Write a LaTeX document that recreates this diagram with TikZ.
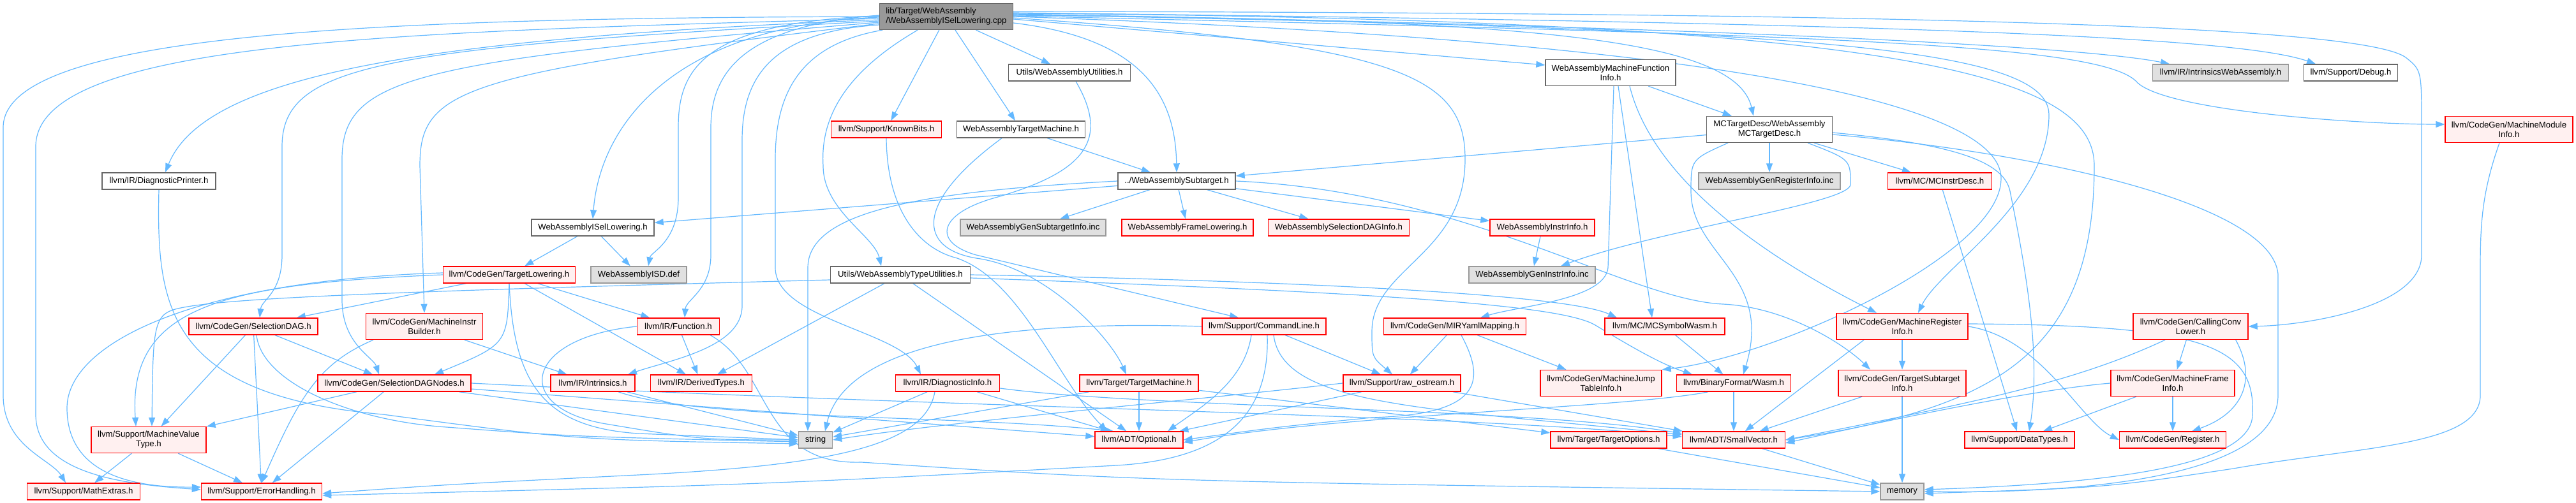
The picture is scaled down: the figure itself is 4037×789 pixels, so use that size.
\documentclass[tikz,border=0pt]{standalone}
\usepackage{fontspec}
\setmainfont{Liberation Sans}
\usetikzlibrary{arrows.meta}
\definecolor{edgeblue}{HTML}{63B8FF}
\definecolor{redfill}{HTML}{FFF0F0}
\definecolor{grayfill}{HTML}{E0E0E0}
\definecolor{rootfill}{HTML}{999999}
\definecolor{darkline}{HTML}{666666}
\definecolor{lightline}{HTML}{999999}
\definecolor{redline}{HTML}{FF0000}
\pgfdeclarelayer{edges}
\pgfsetlayers{edges,main}

\begin{document}
\begin{tikzpicture}[x=1pt, y=-1pt,
  >={Triangle[length=14pt,width=10pt]},
  box/.style={draw, line width=1.4pt, inner sep=0pt, minimum height=26pt, font=\fontsize{13.2pt}{15pt}\selectfont},
  wbox/.style={box, draw=darkline, fill=white},
  rbox/.style={box, draw=redline, fill=redfill},
  gbox/.style={box, draw=lightline, fill=grayfill},
  rootbox/.style={box, draw=darkline, fill=rootfill, minimum height=41pt, align=left},
  tall/.style={minimum height=41pt, align=center},
  edge/.style={->, draw=edgeblue, line width=1.2pt}]
\useasboundingbox (0,0) rectangle (4037,789);

\node[rootbox, minimum width=209pt] (root) at (1483,26) {lib/Target/WebAssembly\\/WebAssemblyISelLowering.cpp};

\node[wbox, minimum width=191pt] (util) at (1676,114) {Utils/WebAssemblyUtilities.h};
\node[wbox, tall, minimum width=204pt] (mfi) at (2524,114) {WebAssemblyMachineFunction\\Info.h};
\node[gbox, minimum width=213pt] (intrwasm) at (3480,114) {llvm/IR/IntrinsicsWebAssembly.h};
\node[wbox, minimum width=147pt] (debug) at (3684,114) {llvm/Support/Debug.h};

\node[rbox, minimum width=173pt] (knownbits) at (1389,203) {llvm/Support/KnownBits.h};
\node[wbox, minimum width=201pt] (watm) at (1600,203) {WebAssemblyTargetMachine.h};
\node[wbox, tall, minimum width=197pt] (mctd) at (2773,203) {MCTargetDesc/WebAssembly\\MCTargetDesc.h};
\node[rbox, tall, minimum width=200pt] (mmi) at (3932,203) {llvm/CodeGen/MachineModule\\Info.h};

\node[wbox, minimum width=178pt] (dprn) at (249,284) {llvm/IR/DiagnosticPrinter.h};
\node[wbox, minimum width=184pt] (subtgt) at (1844,284) {../WebAssemblySubtarget.h};
\node[gbox, minimum width=222pt] (genreg) at (2773,284) {WebAssemblyGenRegisterInfo.inc};
\node[rbox, minimum width=163pt] (mcinstr) at (3040,284) {llvm/MC/MCInstrDesc.h};

\node[wbox, minimum width=192pt] (isellow) at (929,357) {WebAssemblyISelLowering.h};
\node[gbox, minimum width=228pt] (gensub) at (1619,357) {WebAssemblyGenSubtargetInfo.inc};
\node[rbox, minimum width=206pt] (framelow) at (1861,357) {WebAssemblyFrameLowering.h};
\node[rbox, minimum width=221pt] (seldaginfo) at (2098,357) {WebAssemblySelectionDAGInfo.h};
\node[rbox, minimum width=164pt] (instrinfo) at (2417,357) {WebAssemblyInstrInfo.h};

\node[rbox, minimum width=207pt] (tlower) at (798,431) {llvm/CodeGen/TargetLowering.h};
\node[gbox, minimum width=150pt] (isddef) at (1001,431) {WebAssemblyISD.def};
\node[wbox, minimum width=219pt] (typeutil) at (1411,431) {Utils/WebAssemblyTypeUtilities.h};
\node[gbox, minimum width=198pt] (geninstr) at (2401,431) {WebAssemblyGenInstrInfo.inc};

\node[rbox, minimum width=202pt] (seldag) at (397,512) {llvm/CodeGen/SelectionDAG.h};
\node[rbox, tall, minimum width=183pt] (mib) at (665,512) {llvm/CodeGen/MachineInstr\\Builder.h};
\node[rbox, minimum width=129pt] (function) at (1063,512) {llvm/IR/Function.h};
\node[rbox, minimum width=194pt] (cmdline) at (1981,512) {llvm/Support/CommandLine.h};
\node[rbox, minimum width=223pt] (miryaml) at (2280,512) {llvm/CodeGen/MIRYamlMapping.h};
\node[rbox, minimum width=188pt] (mcsymwasm) at (2609,512) {llvm/MC/MCSymbolWasm.h};
\node[rbox, tall, minimum width=206pt] (mri) at (2981,512) {llvm/CodeGen/MachineRegister\\Info.h};
\node[rbox, tall, minimum width=180pt] (ccl) at (3433,512) {llvm/CodeGen/CallingConv\\Lower.h};

\node[rbox, minimum width=240pt] (sdnodes) at (618,601) {llvm/CodeGen/SelectionDAGNodes.h};
\node[rbox, minimum width=132pt] (intrinsics) at (929,601) {llvm/IR/Intrinsics.h};
\node[rbox, minimum width=159pt] (derived) at (1099,601) {llvm/IR/DerivedTypes.h};
\node[rbox, minimum width=163pt] (diaginfo) at (1485,601) {llvm/IR/DiagnosticInfo.h};
\node[rbox, minimum width=186pt] (llvmtm) at (1785,601) {llvm/Target/TargetMachine.h};
\node[rbox, minimum width=184pt] (rawos) at (2197,601) {llvm/Support/raw\_ostream.h};
\node[rbox, tall, minimum width=190pt] (mjti) at (2509,601) {llvm/CodeGen/MachineJump\\TableInfo.h};
\node[rbox, minimum width=179pt] (bfwasm) at (2717,601) {llvm/BinaryFormat/Wasm.h};
\node[rbox, tall, minimum width=200pt] (tsi) at (2981,601) {llvm/CodeGen/TargetSubtarget\\Info.h};
\node[rbox, tall, minimum width=194pt] (mfinfo) at (3405,601) {llvm/CodeGen/MachineFrame\\Info.h};

\node[rbox, tall, minimum width=180pt] (mvt) at (233,690) {llvm/Support/MachineValue\\Type.h};
\node[gbox, minimum width=53pt] (string) at (1278,690) {string};
\node[rbox, minimum width=138pt] (optional) at (1785,690) {llvm/ADT/Optional.h};
\node[rbox, minimum width=182pt] (topts) at (2521,690) {llvm/Target/TargetOptions.h};
\node[rbox, minimum width=161pt] (smallvec) at (2717,690) {llvm/ADT/SmallVector.h};
\node[rbox, minimum width=172pt] (datatypes) at (3165,690) {llvm/Support/DataTypes.h};
\node[rbox, minimum width=167pt] (register) at (3405,690) {llvm/CodeGen/Register.h};

\node[rbox, minimum width=177pt] (mathext) at (131,771) {llvm/Support/MathExtras.h};
\node[rbox, minimum width=189pt] (errh) at (410,771) {llvm/Support/ErrorHandling.h};
\node[gbox, minimum width=68pt] (memory) at (2981,771) {memory};

\begin{pgfonlayer}{edges}
\draw[edge] (root.west) .. controls (600,28) and (5,50) .. (5,200) -- (5,620) .. controls (5,700) and (80,720) .. ([xshift=-28pt]mathext.north);
\draw[edge] ([yshift=-3pt]root.west) .. controls (650,50) and (56,60) .. (56,230) -- (56,650) .. controls (56,745) and (200,760) .. ([yshift=3pt]errh.west);
\draw[edge] ([yshift=-5pt]root.west) .. controls (650,60) and (320,120) .. ([xshift=10pt]dprn.north);
\draw[edge] ([yshift=-7pt]root.west) .. controls (600,75) and (442,100) .. (442,230) -- (442,400) .. controls (442,460) and (410,470) .. ([xshift=10pt]seldag.north);
\draw[edge] ([yshift=-9pt]root.west) .. controls (650,95) and (536,120) .. (536,250) -- (536,470) .. controls (536,540) and (585,560) .. ([xshift=-24pt]sdnodes.north);
\draw[edge] ([yshift=-11pt]root.west) .. controls (720,115) and (658,140) .. (658,260) -- (mib.north);
\draw[edge] ([yshift=-1pt]root.west) .. controls (1050,40) and (940,200) .. (isellow.north);
\draw[edge] ([yshift=1pt]root.west) .. controls (1100,35) and (1063,110) .. (1063,200) -- (1063,310) .. controls (1063,380) and (1020,395) .. ([xshift=15pt]isddef.north);
\draw[edge] ([yshift=2pt]root.west) .. controls (1170,40) and (1114,110) .. (1114,200) -- (1114,400) .. controls (1114,455) and (1075,470) .. ([xshift=10pt]function.north);
\draw[edge] ([yshift=-13pt]root.west) .. controls (1210,50) and (1163,120) .. (1163,220) -- (1163,480) .. controls (1163,545) and (1050,565) .. ([xshift=55pt]intrinsics.north);
\draw[edge] ([xshift=-100pt]root.south) .. controls (1250,70) and (1215,150) .. (1215,250) -- (1215,420) .. controls (1215,500) and (1410,520) .. ([xshift=-42pt]diaginfo.north);
\draw[edge] ([xshift=-45pt]root.south) .. controls (1330,110) and (1285,180) .. (1290,260) .. controls (1290,330) and (1370,370) .. ([xshift=-30pt]typeutil.north);
\draw[edge] ([yshift=-10pt]root.east) .. controls (1790,60) and (1842,150) .. (subtgt.north);
\draw[edge] ([yshift=-4pt]root.east) -- ([yshift=12pt]mfi.west);
\draw[edge] ([yshift=2pt]root.east) .. controls (2400,30) and (2720,60) .. ([xshift=-25pt]mctd.north);
\draw[edge] ([yshift=4pt]root.east) .. controls (2600,40) and (3250,70) .. ([xshift=-80pt]intrwasm.north);
\draw[edge] ([yshift=6pt]root.east) .. controls (2900,35) and (3500,55) .. ([xshift=-55pt]debug.north);
\draw[edge] ([yshift=1pt]root.east) .. controls (2900,55) and (3300,70) .. (3350,130) .. controls (3400,175) and (3700,195) .. ([yshift=8pt]mmi.west);
\draw[edge] ([yshift=8pt]root.east) .. controls (3000,20) and (3700,40) .. (3770,90) .. controls (3795,110) .. (3795,200) -- (3795,400) .. controls (3795,480) and (3620,510) .. (ccl.east);
\draw[edge] ([yshift=3pt]root.east) .. controls (2800,45) and (3211,70) .. (3211,180) .. controls (3211,320) and (3040,420) .. ([xshift=25pt]mri.north);
\draw[edge] (root.east) .. controls (2600,60) and (3136,150) .. (3136,280) .. controls (3136,400) and (2780,560) .. (mjti.north east);
\draw[edge] ([yshift=-2pt]root.east) .. controls (2200,70) and (2296,120) .. (2296,250) .. controls (2296,400) and (2150,420) .. (2150,520) .. controls (2150,560) .. ([xshift=-15pt]rawos.north);
\draw[edge] ([yshift=5pt]root.east) .. controls (3000,30) and (3282,120) .. (3282,260) .. controls (3282,560) and (3120,640) .. (smallvec.east);

\foreach \a/\b in {root/knownbits, root/watm, root/util, isellow/tlower, isellow/isddef, subtgt/isellow, subtgt/gensub, subtgt/framelow, subtgt/seldaginfo, subtgt/instrinfo, watm/subtgt, mfi/mctd, mctd/subtgt, mctd/genreg, mctd/mcinstr, mcinstr/datatypes, instrinfo/geninstr}
  \draw[edge] (\a) -- (\b);
\foreach \a/\b in {tlower/seldag, tlower/function, tlower/derived, typeutil/derived, typeutil/optional, seldag/mvt, seldag/errh, seldag/sdnodes, sdnodes/mvt, sdnodes/errh, sdnodes/string, sdnodes/optional, mib/intrinsics, function/derived, intrinsics/string, diaginfo/string, diaginfo/optional, llvmtm/optional, llvmtm/string, llvmtm/topts}
  \draw[edge] (\a) -- (\b);
\foreach \a/\b in {cmdline/rawos, miryaml/rawos, miryaml/mjti, mcsymwasm/bfwasm, rawos/optional, rawos/smallvec, bfwasm/smallvec, mri/tsi, tsi/smallvec, tsi/memory, ccl/mfinfo, mfinfo/register, mfinfo/datatypes, smallvec/memory, topts/memory, mvt/mathext, mvt/errh}
  \draw[edge] (\a) -- (\b);

\draw[edge] (subtgt.east) .. controls (2300,300) and (2550,470) .. (2700,477) .. controls (2800,482) and (2890,540) .. ([xshift=-50pt]tsi.north);
\draw[edge] (subtgt.west) .. controls (1450,300) and (1266,330) .. (1266,420) -- ([xshift=-12pt]string.north);
\draw[edge] ([xshift=-30pt]watm.south) .. controls (1430,320) and (1440,390) .. (1530,405) .. controls (1640,420) and (1740,530) .. ([xshift=-20pt]llvmtm.north);
\draw[edge] ([xshift=10pt]util.south) .. controls (1740,220) and (1700,270) .. (1560,310) .. controls (1470,335) and (1460,380) .. (1530,400) -- ([xshift=-40pt]cmdline.north);
\draw[edge] (knownbits.south) .. controls (1390,330) and (1440,390) .. (1500,405) .. controls (1600,440) and (1660,600) .. ([xshift=-50pt]optional.north);
\draw[edge] ([xshift=5pt]mfi.south) -- (2520,420) .. controls (2515,470) and (2380,480) .. ([xshift=40pt]miryaml.north);
\draw[edge] ([xshift=12pt]mfi.south) -- ([xshift=-20pt]mcsymwasm.north);
\draw[edge] ([xshift=30pt]mfi.south) .. controls (2590,280) and (2760,400) .. ([xshift=-40pt]mri.north);
\draw[edge] ([xshift=60pt]mctd.south) .. controls (2900,250) .. (2900,290) .. controls (2895,320) and (2600,360) .. ([xshift=45pt]geninstr.north);
\draw[edge] ([xshift=-65pt]mctd.south) .. controls (2650,250) .. (2650,300) .. controls (2650,400) and (2780,430) .. ([xshift=15pt]bfwasm.north);
\draw[edge] ([yshift=-5pt]mctd.east) .. controls (3050,225) and (3140,250) .. (3150,300) .. controls (3170,400) and (3200,550) .. ([xshift=15pt]datatypes.north);
\draw[edge] ([yshift=-8pt]mctd.east) .. controls (3200,240) and (3560,320) .. (3570,430) -- (3570,620) .. controls (3570,740) and (3300,775) .. (memory.east);
\draw[edge] ([xshift=-15pt]mmi.south) .. controls (3890,300) and (3887,350) .. (3887,420) -- (3887,620) .. controls (3887,700) and (3700,700) .. (3500,735) .. controls (3300,765) .. ([yshift=-3pt]memory.east);
\draw[edge] (mri.east) .. controls (3200,530) and (3260,660) .. (register.west);
\draw[edge] ([yshift=4pt]mri.east) .. controls (3450,510) and (3535,540) .. (3530,650) .. controls (3530,740) and (3250,760) .. ([yshift=3pt]memory.east);
\draw[edge] ([xshift=-60pt]mri.south) -- (smallvec);
\draw[edge] ([xshift=-20pt]ccl.south east) .. controls (3540,600) and (3510,650) .. ([xshift=30pt]register.north);
\draw[edge] ([xshift=-40pt]ccl.south) .. controls (3250,600) and (3100,630) .. (smallvec.east);
\draw[edge] (mfinfo.west) .. controls (3200,610) and (3000,650) .. ([yshift=-5pt]smallvec.east);
\draw[edge] (tlower.south) .. controls (795,540) .. ([xshift=63pt]sdnodes.north);
\draw[edge] (tlower.west) .. controls (350,445) and (200,480) .. ([xshift=-20pt]mvt.north);
\draw[edge] ([yshift=3pt]tlower.west) .. controls (300,440) and (105,540) .. (105,640) .. controls (105,740) and (200,765) .. ([yshift=7pt]errh.west);
\draw[edge] (tlower.south) .. controls (805,600) and (850,670) .. (1000,680) -- (string.west);
\draw[edge] ([yshift=-8pt]typeutil.west) .. controls (700,455) and (400,465) .. (300,480) .. controls (240,490) .. ([xshift=5pt]mvt.north);
\draw[edge] (typeutil.east) .. controls (2000,440) and (2450,460) .. ([xshift=-75pt]mcsymwasm.north);
\draw[edge] ([yshift=-5pt]typeutil.east) .. controls (2200,460) and (2450,480) .. (2500,510) .. controls (2550,540) and (2600,570) .. ([xshift=-65pt]bfwasm.north);
\draw[edge] ([xshift=5pt]seldag.south) .. controls (410,600) and (550,660) .. (700,670) .. controls (900,685) .. ([yshift=-3pt]string.west);
\draw[edge] (dprn.south) .. controls (245,480) and (260,620) .. (600,650) .. controls (900,690) .. ([yshift=-6pt]string.west);
\draw[edge] (sdnodes.east) .. controls (1500,640) and (2300,650) .. ([yshift=5pt]smallvec.west);
\draw[edge] ([xshift=-80pt]mib.south) .. controls (500,570) and (470,620) .. (errh.north);
\draw[edge] (function.west) .. controls (820,530) and (800,640) .. (950,665) .. controls (1100,690) .. (string.west);
\draw[edge] ([xshift=-15pt]function.south east) .. controls (1210,580) and (1190,730) .. (1350,725) .. controls (1800,755) .. (memory.west);
\draw[edge] ([xshift=40pt]intrinsics.south) .. controls (1100,660) and (1500,650) .. ([xshift=-40pt]optional.north);
\draw[edge] ([xshift=-20pt]diaginfo.south) .. controls (1450,700) and (1300,730) .. (1000,745) .. controls (700,760) .. ([yshift=-3pt]errh.east);
\draw[edge] ([yshift=-8pt]diaginfo.east) .. controls (1800,640) and (2400,640) .. ([yshift=10pt]smallvec.west);
\draw[edge] (cmdline.west) .. controls (1500,500) and (1320,560) .. ([xshift=15pt]string.north);
\draw[edge] ([xshift=-20pt]cmdline.south) .. controls (1950,600) and (1880,640) .. ([xshift=45pt]optional.north);
\draw[edge] ([xshift=5pt]cmdline.south) .. controls (1990,650) and (1920,720) .. (1750,730) .. controls (1200,760) .. ([yshift=-6pt]errh.east);
\draw[edge] ([xshift=15pt]cmdline.south) .. controls (2010,640) and (2250,640) .. ([yshift=8pt]smallvec.west);
\draw[edge] ([xshift=10pt]miryaml.south) .. controls (2330,600) and (2320,650) .. (2150,655) .. controls (2000,670) .. (optional.east);
\draw[edge] ([xshift=-40pt]bfwasm.south) .. controls (2550,640) and (2100,650) .. ([yshift=-4pt]optional.east);
\draw[edge] (rawos.west) .. controls (1900,625) and (1500,660) .. (string.east);
\end{pgfonlayer}
\end{tikzpicture}
\end{document}
